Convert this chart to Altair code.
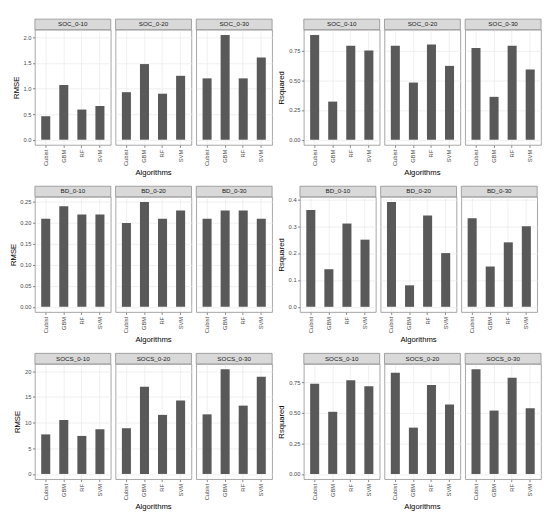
import altair as alt
import pandas as pd

algos = ["Cubist", "GBM", "RF", "SVM"]
depths = ["0-10", "0-20", "0-30"]

soc_rmse = [[0.46, 1.07, 0.59, 0.66], [0.93, 1.48, 0.90, 1.25], [1.20, 2.05, 1.20, 1.61]]
soc_r2 = [[0.88, 0.32, 0.79, 0.75], [0.79, 0.48, 0.80, 0.62], [0.77, 0.36, 0.79, 0.59]]
bd_rmse = [[0.21, 0.24, 0.22, 0.22], [0.20, 0.25, 0.21, 0.23], [0.21, 0.23, 0.23, 0.21]]
bd_r2 = [[0.36, 0.14, 0.31, 0.25], [0.39, 0.08, 0.34, 0.20], [0.33, 0.15, 0.24, 0.30]]
socs_rmse = [[7.7, 10.5, 7.4, 8.7], [8.9, 17.0, 11.5, 14.3], [11.6, 20.4, 13.3, 18.9]]
socs_r2 = [[0.74, 0.51, 0.77, 0.72], [0.83, 0.38, 0.73, 0.57], [0.86, 0.52, 0.79, 0.54]]

ticks_soc_rmse = [0, 0.5, 1.0, 1.5, 2.0]
ticks_r2_quarter = [0, 0.25, 0.5, 0.75]
ticks_bd_rmse = [0, 0.05, 0.10, 0.15, 0.20, 0.25]
ticks_bd_r2 = [0, 0.1, 0.2, 0.3, 0.4]
ticks_socs_rmse = [0, 5, 10, 15, 20]

W = 79
H = 120
FONT = "Liberation Sans"


def panel(prop, depth, vals, metric, domain, ticks, fmt, first, middle):
    name = f"{prop}_{depth}"
    df = pd.DataFrame({"Algorithm": algos, "value": vals, "panel": [name] * len(algos)})
    if first:
        yaxis = alt.Axis(values=ticks, format=fmt, title=metric, grid=True,
                         tickSize=2.5, labelPadding=1.5, titlePadding=3)
    else:
        yaxis = alt.Axis(values=ticks, title=None, grid=True, labels=False,
                         ticks=False)
    base = alt.Chart(df)
    bars = base.mark_bar(color="#595959").encode(
        x=alt.X(
            "Algorithm:N",
            sort=algos,
            scale=alt.Scale(paddingInner=0.5, paddingOuter=0.35),
            axis=alt.Axis(title=None, labelAngle=270, labelAlign="right",
                          labelBaseline="middle", grid=True, bandPosition=0.5,
                          ticks=True, tickSize=2.5, labelPadding=2),
        ),
        y=alt.Y(
            "value:Q",
            scale=alt.Scale(domain=domain, nice=False, zero=False),
            axis=yaxis,
        ),
        y2=alt.datum(0),
    )
    one = base.transform_filter(alt.datum.Algorithm == algos[0])
    strip = one.mark_rect(
        fill="#D9D9D9", stroke="#8c8c8c", strokeWidth=0.8
    ).encode(x=alt.value(0), x2=alt.value(W), y=alt.value(-11), y2=alt.value(0))
    label = one.mark_text(
        fontSize=6.5, color="#1A1A1A", font=FONT
    ).encode(text="panel:N", x=alt.value(W / 2), y=alt.value(-5.5))
    layers = [bars, strip, label]
    if middle:
        xtitle = one.mark_text(
            fontSize=8, color="black", font=FONT, baseline="bottom"
        ).encode(text=alt.value("Algorithms"), x=alt.value(W / 2), y=alt.value(H + 33))
        layers.append(xtitle)
    return alt.layer(*layers).properties(width=W, height=H)


def group(prop, metric, values, ticks, fmt):
    m = max(max(v) for v in values)
    domain = [-0.05 * m, 1.05 * m]
    charts = [
        panel(prop, d, vals, metric, domain, ticks, fmt, i == 0, i == 1)
        for i, (d, vals) in enumerate(zip(depths, values))
    ]
    return alt.hconcat(*charts, spacing=3)


row1 = alt.hconcat(
    group("SOC", "RMSE", soc_rmse, ticks_soc_rmse, ".1f"),
    group("SOC", "Rsquared", soc_r2, ticks_r2_quarter, ".2f"),
    spacing=4,
)
row2 = alt.hconcat(
    group("BD", "RMSE", bd_rmse, ticks_bd_rmse, ".2f"),
    group("BD", "Rsquared", bd_r2, ticks_bd_r2, ".1f"),
    spacing=4,
)
row3 = alt.hconcat(
    group("SOCS", "RMSE", socs_rmse, ticks_socs_rmse, "d"),
    group("SOCS", "Rsquared", socs_r2, ticks_r2_quarter, ".2f"),
    spacing=4,
)

chart = alt.vconcat(row1, row2, row3, spacing=8).properties(
    padding={"left": 0, "top": 0, "right": 0, "bottom": 0}
).configure_view(
    stroke="#8c8c8c", strokeWidth=0.8
).configure_axis(
    labelFont=FONT, titleFont=FONT, labelFontSize=6, labelColor="#4D4D4D",
    tickColor="#333333", tickWidth=0.6, gridColor="#EBEBEB", gridWidth=0.8,
    domain=False, titleFontWeight="normal", titleFontSize=8, titleColor="black",
)

chart.save("out.html", embed_options={"renderer": "svg", "actions": False})
